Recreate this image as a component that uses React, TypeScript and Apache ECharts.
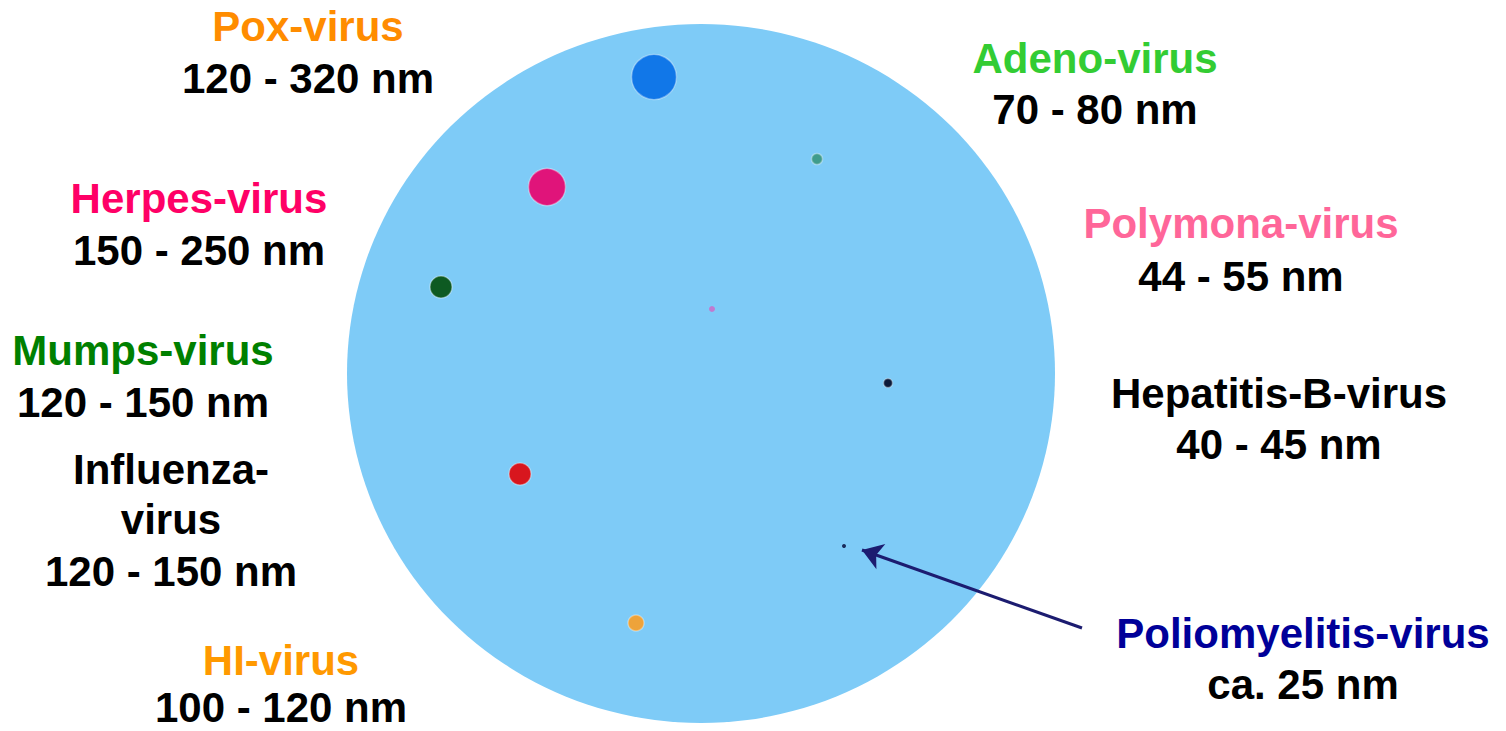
import React, { useEffect, useRef } from "react";
import * as echarts from "echarts";

// ---- data ----
const viruses = [
  "Pox-virus",
  "Herpes-virus",
  "Mumps-virus",
  "Influenza-virus",
  "HI-virus",
  "Adeno-virus",
  "Polymona-virus",
  "Hepatitis-B-virus",
  "Poliomyelitis-virus",
];
const sizeRanges = [
  "120 - 320 nm",
  "150 - 250 nm",
  "120 - 150 nm",
  "120 - 150 nm",
  "100 - 120 nm",
  "70 - 80 nm",
  "44 - 55 nm",
  "40 - 45 nm",
  "ca. 25 nm",
];
const dotX = [654, 547, 441, 520, 636, 817, 712, 888, 844];
const dotY = [77, 187, 287, 474, 623, 159, 309, 383, 546];
const dotDiameter = [45, 37, 22, 22, 16, 11, 6, 9, 4];
const dotColors = [
  "#1177e8",
  "#e0147a",
  "#0d5a22",
  "#d8161e",
  "#eea33a",
  "#3f9c8c",
  "#c07ad0",
  "#0b1a3a",
  "#1a2c5c",
];
const nameColors = [
  "#ff8c00",
  "#ff0066",
  "#008000",
  "#000000",
  "#ff9900",
  "#33cc33",
  "#ff6699",
  "#000000",
  "#000099",
];

// field of view (big circle)
const fieldCenter = [701, 373.5];
const fieldSize = [708, 699];

// ---- layout of labels (pixel positions of each text line centre) ----
const labelLayout = [
  { name: [[308, 26]], size: [308, 78] },
  { name: [[199, 198]], size: [199, 250] },
  { name: [[143, 350]], size: [143, 402] },
  { name: [[171, 469], [171, 519]], size: [171, 571] },
  { name: [[281, 660]], size: [281, 707] },
  { name: [[1095, 58]], size: [1095, 109] },
  { name: [[1241, 223]], size: [1241, 276] },
  { name: [[1279, 393]], size: [1279, 444] },
  { name: [[1303, 633]], size: [1303, 684] },
];
const nameLines = [
  ["Pox-virus"],
  ["Herpes-virus"],
  ["Mumps-virus"],
  ["Influenza-", "virus"],
  ["HI-virus"],
  ["Adeno-virus"],
  ["Polymona-virus"],
  ["Hepatitis-B-virus"],
  ["Poliomyelitis-virus"],
];

const W = 1506;
const H = 731;
const FONT = '"Liberation Sans", Arial, Helvetica, sans-serif';

export default function App() {
  const ref = useRef<HTMLDivElement>(null);
  useEffect(() => {
    if (!ref.current) return;
    const chart = echarts.init(ref.current, undefined, { renderer: "svg" });

    const mkText = (t: string, x: number, y: number, fill: string) => ({
      type: "text",
      x,
      y,
      style: {
        text: t,
        fill,
        fontFamily: FONT,
        fontWeight: "bold",
        fontSize: 42,
        lineHeight: 34,
        textAlign: "center",
        textVerticalAlign: "middle",
      },
    });

    const texts: any[] = [];
    labelLayout.forEach((lay, i) => {
      nameLines[i].forEach((t, j) => {
        texts.push(mkText(t, lay.name[j][0], lay.name[j][1], nameColors[i]));
      });
      texts.push(mkText(sizeRanges[i], lay.size[0], lay.size[1], "#000000"));
    });

    const polio = viruses.length - 1;
    const arrowEnd = [dotX[polio] + 18, dotY[polio] + 4];
    const arrowStart = [1082, 628];

    chart.setOption({
      animation: false,
      backgroundColor: "#ffffff",
      grid: { left: 0, right: 0, top: 0, bottom: 0 },
      xAxis: { type: "value", min: 0, max: W, show: false },
      yAxis: { type: "value", min: 0, max: H, inverse: true, show: false },
      series: [
        {
          type: "scatter",
          name: "field",
          silent: true,
          symbol: "circle",
          symbolSize: fieldSize,
          data: [fieldCenter],
          itemStyle: { color: "#7ecbf7", opacity: 1 },
          z: 1,
        },
        {
          type: "scatter",
          name: "viruses",
          symbol: "circle",
          data: viruses.map((v, i) => ({
            name: v,
            value: [dotX[i], dotY[i]],
            symbolSize: dotDiameter[i],
            itemStyle: {
              color: dotColors[i],
              borderColor: "rgba(255,255,255,0.35)",
              borderWidth: dotDiameter[i] > 8 ? 1.5 : 0,
              opacity: 1,
            },
          })),
          z: 3,
        },
        {
          type: "lines",
          coordinateSystem: "cartesian2d",
          silent: true,
          symbol: ["none", "arrow"],
          symbolSize: 20,
          lineStyle: { color: "#1c1c70", width: 3, opacity: 1 },
          data: [{ coords: [arrowStart, arrowEnd] }],
          z: 4,
        },
      ],
      graphic: texts,
    });

    return () => chart.dispose();
  }, []);

  return (
    <div
      ref={ref}
      style={{
        position: "absolute",
        left: 0,
        top: 0,
        width: W,
        height: H,
        background: "#fff",
      }}
    />
  );
}
